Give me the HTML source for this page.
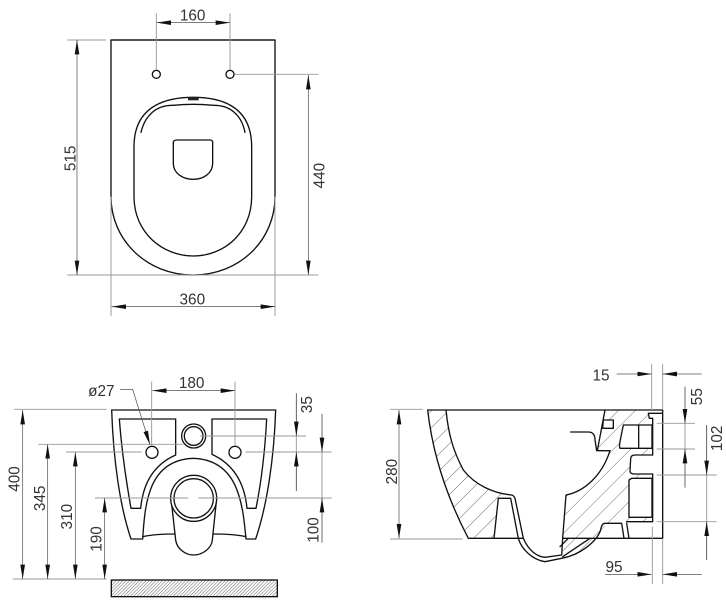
<!DOCTYPE html>
<html><head><meta charset="utf-8"><style>
html,body{margin:0;padding:0;background:#fff}
svg{display:block}
text{font-family:"Liberation Sans",sans-serif;font-size:46px;fill:#333;text-anchor:middle}
.o{fill:none;stroke:#111;stroke-width:4;stroke-linejoin:round;stroke-linecap:round}
.w{fill:#fff;stroke:#111;stroke-width:4;stroke-linejoin:round}
.e{fill:none;stroke:#999;stroke-width:2.8}
.d{fill:none;stroke:#555;stroke-width:2.2;marker-end:url(#a)}
.b{fill:none;stroke:#555;stroke-width:2.2;marker-end:url(#a);marker-start:url(#a)}
</style></head><body>
<svg width="726" height="610" viewBox="0 0 726 610" xmlns="http://www.w3.org/2000/svg">
<defs>
<marker id="a" markerUnits="userSpaceOnUse" markerWidth="44" markerHeight="18" refX="43" refY="9" orient="auto-start-reverse"><path d="M43,9 L0,2 V16 Z" fill="#111"/></marker>
<pattern id="h" patternUnits="userSpaceOnUse" width="36" height="36" patternTransform="rotate(45)"><line x1="0" y1="0" x2="0" y2="36" stroke="#555" stroke-width="2.6"/></pattern>
<pattern id="f" patternUnits="userSpaceOnUse" width="7" height="7" patternTransform="rotate(45)"><line x1="0" y1="0" x2="0" y2="7" stroke="#666" stroke-width="3"/></pattern>
</defs>

<g transform="translate(60,0) scale(.33333)">
<path class="o" d="M153,120 H645 V590 C645,720 540,825 399,825 C260,825 153,720 153,590 Z"/>
<path class="o" d="M153,120 H645" stroke-width="6"/>
<path class="o" d="M400,292 C470,292 575,310 575,440 V590 C575,700 490,768 400,768 C310,768 222,700 222,590 V440 C222,310 330,292 400,292 Z"/>
<path class="o" d="M243,397 C255,345 290,315 340,316 C380,312 420,312 460,316 C510,315 545,345 555,397"/>
<rect x="384" y="292" width="32" height="9" fill="#222"/>
<path class="o" d="M350,420 H450 Q458,420 458,428 V490 C458,520 430,538 400,538 C368,538 340,520 340,490 V428 Q340,420 350,420 Z"/>
<circle class="w" cx="289" cy="223" r="12"/><circle class="w" cx="510" cy="223" r="12"/>
<path class="e" d="M289,40V210M510,40V210M153,590V948M645,590V948M22,120H138M22,825H775M525,223H775"/>
<path class="b" d="M290,68H510"/><path class="b" d="M51,120V825"/><path class="b" d="M745,225V825"/><path class="b" d="M155,920H645"/>
<text x="398" y="61">160</text>
<text x="397" y="914">360</text>
<text transform="translate(47,475) rotate(-90)">515</text>
<text transform="translate(793,527) rotate(-90)">440</text>
</g>

<g transform="translate(0,360) scale(.33333)">
<path class="o" d="M335,150 H827 C822,300 800,440 767,537 H738 C728,430 715,300 580,295 C445,300 435,430 428,537 H393 C360,440 340,300 335,150 Z"/>
<path class="o" d="M358,177 H527 V285 C470,310 430,360 422,445 H393 C378,360 365,270 358,177 Z"/>
<path class="o" d="M636,177 H800 C795,270 785,360 768,445 H741 C733,360 695,310 636,283 Z"/>
<path class="o" d="M428,530 C460,523 490,522 525,522M640,522 C675,522 705,523 738,530"/>
<path class="w" d="M513,415 L527,540 C530,565 555,585 581,585 C607,585 635,565 637,540 L650,415 Z"/>
<circle class="w" cx="581" cy="415" r="69"/><circle class="w" cx="581" cy="415" r="59"/>
<circle class="w" cx="581" cy="228" r="36"/><circle class="w" cx="581" cy="228" r="28"/>
<circle class="w" cx="456" cy="277" r="18"/><circle class="w" cx="705" cy="277" r="18"/>
<rect x="334" y="660" width="498" height="50" fill="url(#f)" stroke="#111" stroke-width="4"/>
<path class="e" d="M455,65V258M705,65V258M42,148H320M38,657H320M115,253H550M198,276H425M285,414H565M595,414H995M600,228H918M737,276H995M889,100V393M966,162V548"/>
<path class="b" d="M457,92H705"/><path class="b" d="M68,150V657"/><path class="b" d="M143,253V657"/><path class="b" d="M226,276V657"/><path class="b" d="M314,414V657"/>
<path class="d" d="M889,100V228"/><path class="d" d="M889,393V276"/><path class="d" d="M966,162V276"/><path class="d" d="M966,548V414"/>
<path class="d" d="M360,88H398L450,255"/>
<text x="575" y="84">180</text>
<text x="304" y="108">ø27</text>
<text transform="translate(59,357) rotate(-90)">400</text>
<text transform="translate(135,415) rotate(-90)">345</text>
<text transform="translate(216,470) rotate(-90)">310</text>
<text transform="translate(304,537) rotate(-90)">190</text>
<text transform="translate(936,134) rotate(-90)">35</text>
<text transform="translate(956,510) rotate(-90)">100</text>
</g>

<g transform="translate(380,360) scale(.33333)">
<path d="M143,150 H198 C205,220 218,270 250,330 C285,375 340,400 395,405 L355,412 L342,535 H265 C210,430 160,300 143,150 Z" fill="url(#h)"/>
<path d="M675,150 H808 L805,170 H818 V485 H740 L675,490 C672,530 640,585 545,592 L548,535 L558,405 C610,395 670,350 690,272 H652 Z" fill="url(#h)"/>
<path class="o" d="M143,150 H848 V535 H548M430,535 H265 C210,430 160,300 143,150"/>
<path class="o" d="M198,150 C205,220 218,270 250,330 C285,375 340,400 395,405 Q402,407 405,415 L430,535 C445,570 470,590 495,592 L545,585 L548,535 L558,405 C610,395 665,350 690,272 H652 L675,150"/>
<path class="o" d="M355,415 H392 L415,535 C425,570 460,600 495,605 L545,595 C600,585 650,545 662,510 Q665,490 675,490 H725 L732,535"/>
<path class="o" d="M355,415 L342,535"/>
<path class="o" d="M548,590 L630,535M540,560 L565,535M740,490 L747,535"/>
<path class="o" d="M572,216 H625 C640,216 645,225 645,240 L650,272"/>
<path class="w" d="M670,180 H700 L700,205 H668 Z"/>
<path class="w" d="M730,195 H816 V265 H720 Q717,260 720,245 Z"/>
<path class="o" d="M776,195 V265"/>
<path d="M818,287 H762 Q752,287 752,297 V330 Q752,340 762,340 H818 Z" fill="#fff"/>
<path class="o" d="M818,285 H765 Q752,285 752,297 L750,332 Q750,342 762,342 H818"/>
<path class="w" d="M755,355 H816 V472 H747 V360 Z"/>
<path class="o" d="M818,175 V285M818,342 V485M805,160 H845M805,160 L808,175 H818M740,485 H818"/>
<path class="e" d="M815,12V150M848,12V150M817,500V672M848,535V672M30,148H128M30,537H248M830,190H945M830,267H945M830,345H1010M830,485H1010M915,80V383M980,195V600"/>
<path class="d" d="M710,42H815"/><path class="d" d="M965,42H848"/><path class="d" d="M675,643H815"/><path class="d" d="M965,643H848"/>
<path class="b" d="M57,150V535"/>
<path class="d" d="M915,80V190"/><path class="d" d="M915,383V267"/><path class="d" d="M980,195V345"/><path class="d" d="M980,600V485"/>
<text x="663" y="61">15</text>
<text x="702" y="636">95</text>
<text transform="translate(51,335) rotate(-90)">280</text>
<text transform="translate(966,110) rotate(-90)">55</text>
<text transform="translate(1026,235) rotate(-90)">102</text>
</g>
</svg>
</body></html>
